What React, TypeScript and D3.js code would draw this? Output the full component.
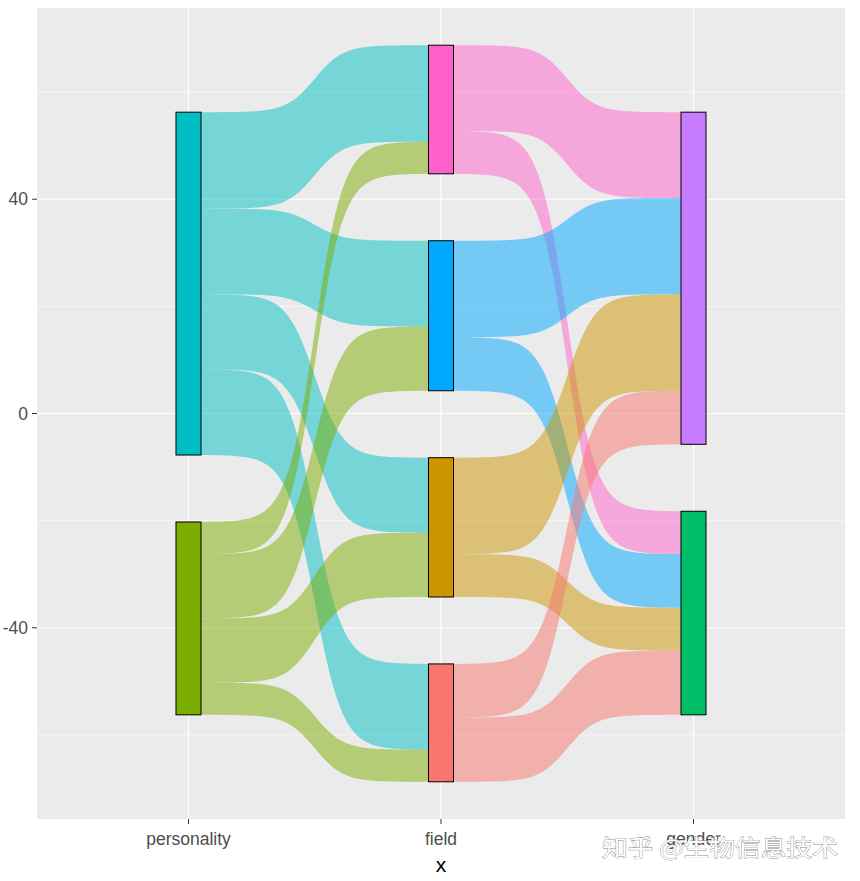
import * as d3 from 'd3';

// stages on the x axis
const stages = ['personality', 'field', 'gender'];

// nodes per stage, listed top to bottom
const personalityNodes = ['personality_1', 'personality_2'];
const fieldNodes = ['field_1', 'field_2', 'field_3', 'field_4'];
const genderNodes = ['gender_1', 'gender_2'];

// counts: rows = source node, cols = target node
const personalityToField = [
    [18, 16, 14, 16],
    [6, 12, 12, 6],
];
const fieldToGender = [
    [16, 8],
    [18, 10],
    [18, 8],
    [10, 12],
];

const yTicks = [-40, 0, 40];
const yMinorTicks = [-60, -20, 20, 60];

const nodeIds = [...personalityNodes, ...fieldNodes, ...genderNodes];
const nodeColors = ['#00BFC4', '#7CAE00', '#FF61CC', '#00A9FF', '#CD9600', '#F8766D', '#C77CFF', '#00BE67'];

const W = 860,
    H = 881;
const panel = { left: 37, top: 8, right: 845, bottom: 819 };
const gap = 12.5;
const nodeW = 25;

const color = d3.scaleOrdinal<string, string>().domain(nodeIds).range(nodeColors);
const x = d3.scalePoint<string>().domain(stages).range([panel.left, panel.right]).padding(0.6);
const y = d3.scaleLinear().domain([-75.7, 75.7]).range([panel.bottom, panel.top]);

const stageNodes = [personalityNodes, fieldNodes, genderNodes];
const links = [personalityToField, fieldToGender];

function stageSizes(k: number) {
    if (k < links.length) return links[k].map((row) => d3.sum(row));
    const m = links[k - 1];
    return m[0].map((_, j) => d3.sum(m, (row) => row[j]));
}

// stack nodes of each stage, centred on 0
const layout = stageNodes.map((ids, k) => {
    const sizes = stageSizes(k);
    let cur = (d3.sum(sizes) + gap * (ids.length - 1)) / 2;
    return ids.map((id, i) => {
        const node = { id, top: cur, bottom: cur - sizes[i] };
        cur -= sizes[i] + gap;
        return node;
    });
});

type Flow = { src: string; x0: number; x1: number; a0: number; a1: number; b0: number; b1: number };

const flows: Flow[] = [];
links.forEach((m, k) => {
    const src = layout[k];
    const tgt = layout[k + 1];
    const inOff = tgt.map((n) => n.top);
    m.forEach((row, i) => {
        let outOff = src[i].top;
        row.forEach((v, j) => {
            flows.push({
                src: src[i].id,
                x0: (x(stages[k]) ?? 0) + nodeW / 2,
                x1: (x(stages[k + 1]) ?? 0) - nodeW / 2,
                a0: outOff,
                a1: outOff - v,
                b0: inOff[j],
                b1: inOff[j] - v,
            });
            outOff -= v;
            inOff[j] -= v;
        });
    });
});

const smooth = 8;
const lo = 1 / (1 + Math.exp(smooth));
const hi = 1 / (1 + Math.exp(-smooth));
const sig = (t: number) => (1 / (1 + Math.exp(-(t * 2 * smooth - smooth))) - lo) / (hi - lo);
const steps = d3.range(0, 101).map((i) => i / 100);

const area = d3
    .area<number>()
    .x((t, _i) => 0)
    .y0(0)
    .y1(0);

function flowPath(f: Flow) {
    const gen = d3
        .area<number>()
        .x((t) => f.x0 + t * (f.x1 - f.x0))
        .y1((t) => y(f.a0 + sig(t) * (f.b0 - f.a0)))
        .y0((t) => y(f.a1 + sig(t) * (f.b1 - f.a1)));
    return gen(steps) ?? '';
}
void area;

const font = '"Liberation Sans", Arial, sans-serif';

export default function App() {
    return (
        <svg width={W} height={H} style={{ position: 'absolute', left: 0, top: 0, background: '#fff' }}>
            <rect
                x={panel.left}
                y={panel.top}
                width={panel.right - panel.left}
                height={panel.bottom - panel.top}
                fill="#EBEBEB"
            />
            {yMinorTicks.map((t) => (
                <line key={'m' + t} x1={panel.left} x2={panel.right} y1={y(t)} y2={y(t)} stroke="#fff" strokeWidth={0.6} />
            ))}
            {yTicks.map((t) => (
                <line key={'g' + t} x1={panel.left} x2={panel.right} y1={y(t)} y2={y(t)} stroke="#fff" strokeWidth={1.2} />
            ))}
            {stages.map((s) => (
                <line key={'v' + s} x1={x(s)} x2={x(s)} y1={panel.top} y2={panel.bottom} stroke="#fff" strokeWidth={1.2} />
            ))}

            {flows.map((f, i) => (
                <path key={i} d={flowPath(f)} fill={color(f.src)} fillOpacity={0.5} />
            ))}

            {layout.map((nodes, k) =>
                nodes.map((n) => (
                    <rect
                        key={n.id}
                        x={(x(stages[k]) ?? 0) - nodeW / 2}
                        y={y(n.top)}
                        width={nodeW}
                        height={y(n.bottom) - y(n.top)}
                        fill={color(n.id)}
                        stroke="#000"
                        strokeWidth={1}
                    />
                )),
            )}

            {yTicks.map((t) => (
                <g key={'yt' + t}>
                    <line x1={panel.left - 5} x2={panel.left} y1={y(t)} y2={y(t)} stroke="#333" strokeWidth={1} />
                    <text
                        x={panel.left - 9}
                        y={y(t)}
                        dy="0.35em"
                        textAnchor="end"
                        fontFamily={font}
                        fontSize={17.5}
                        fill="#4D4D4D"
                    >
                        {t}
                    </text>
                </g>
            ))}
            {stages.map((s) => (
                <g key={'xt' + s}>
                    <line x1={x(s)} x2={x(s)} y1={panel.bottom} y2={panel.bottom + 5} stroke="#333" strokeWidth={1} />
                    <text x={x(s)} y={845} textAnchor="middle" fontFamily={font} fontSize={17.5} fill="#4D4D4D">
                        {s}
                    </text>
                </g>
            ))}
            <text x={x('field')} y={872} textAnchor="middle" fontFamily={font} fontSize={21} fill="#000">
                x
            </text>

            <text
                x={602}
                y={856}
                fontFamily='"Noto Sans CJK SC", sans-serif'
                fontSize={23}
                textLength={236}
                lengthAdjust="spacingAndGlyphs"
                fill="#fff"
                stroke="#8c8c8c"
                strokeWidth={0.8}
                style={{ paintOrder: 'stroke' }}
            >
                知乎 @生物信息技术
            </text>
        </svg>
    );
}
